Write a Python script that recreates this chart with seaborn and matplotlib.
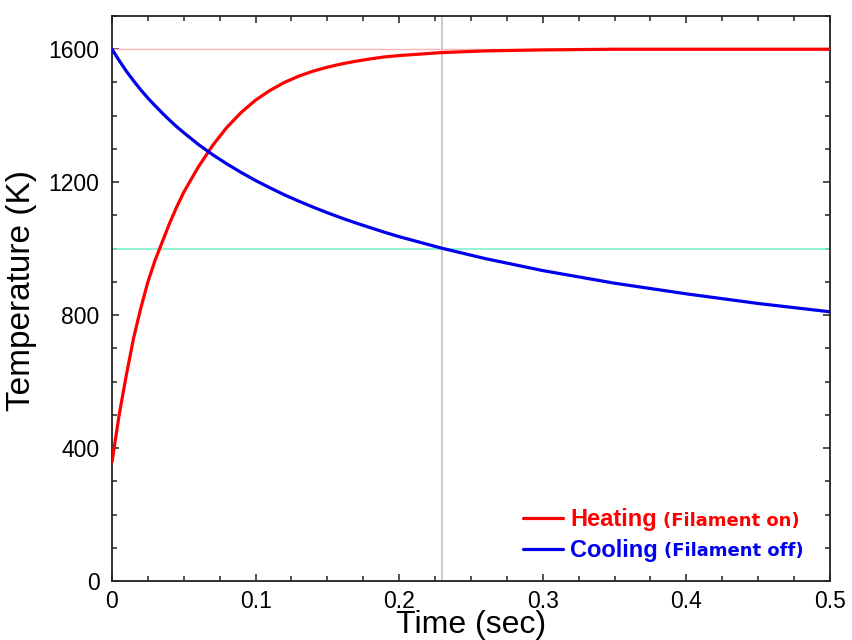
import matplotlib
matplotlib.use('Agg')
import matplotlib.pyplot as plt
from matplotlib.ticker import MultipleLocator
import pandas as pd
import seaborn as sns

# values
time_s = [0, 0.005, 0.01, 0.015, 0.02, 0.025, 0.03, 0.035, 0.04, 0.045, 0.05,
          0.06, 0.07, 0.08, 0.09, 0.10, 0.11, 0.12, 0.13, 0.14, 0.15, 0.16,
          0.17, 0.18, 0.19, 0.20, 0.23, 0.26, 0.30, 0.35, 0.40, 0.45, 0.50]
heating_K = [358, 500, 620, 730, 820, 900, 965, 1020, 1075, 1125, 1170,
             1245, 1310, 1365, 1410, 1447, 1476, 1500, 1519, 1534, 1546, 1556,
             1564, 1571, 1577, 1581, 1590, 1595, 1598, 1600, 1600, 1600, 1600]
cooling_K = [1600, 1566, 1534, 1505, 1478, 1453, 1430, 1408, 1387, 1367, 1349,
             1314, 1283, 1255, 1229, 1205, 1183, 1162, 1143, 1125, 1108, 1092,
             1077, 1063, 1049, 1036, 1001, 970, 934, 896, 864, 835, 810]

ref_hot = 1600
ref_cold = 1000
ref_time = 0.23

xticks = [0, 0.1, 0.2, 0.3, 0.4, 0.5]
xtick_labels = ['0', '0.1', '0.2', '0.3', '0.4', '0.5']
yticks = [0, 400, 800, 1200, 1600]

df = pd.DataFrame({'Time': time_s, 'Heating': heating_K, 'Cooling': cooling_K})

sns.set_theme(style='ticks')
plt.rcParams['font.family'] = ['Liberation Sans', 'DejaVu Sans']
plt.rcParams['text.color'] = 'black'
plt.rcParams['axes.labelcolor'] = 'black'
plt.rcParams['xtick.color'] = 'black'
plt.rcParams['ytick.color'] = 'black'

fig = plt.figure(figsize=(8.53, 6.4), dpi=100)
ax = fig.add_axes([0.1313, 0.0922, 0.8417, 0.8828])

# reference lines
ax.axhline(ref_hot, color='#ffb3b3', lw=1.0, zorder=1)
ax.axhline(ref_cold, color='#7ff0d0', lw=1.2, zorder=1)
ax.axvline(ref_time, color='#c4c4c4', lw=1.2, zorder=1)

sns.lineplot(data=df, x='Time', y='Heating', color='#ff0000', lw=2.3,
             ax=ax, label='Heating', zorder=3)
sns.lineplot(data=df, x='Time', y='Cooling', color='#0000ee', lw=2.3,
             ax=ax, label='Cooling', zorder=3)

ax.set_xlim(0, 0.5)
ax.set_ylim(0, 1700)
ax.set_xticks(xticks)
ax.set_xticklabels(xtick_labels)
ax.set_yticks(yticks)
ax.xaxis.set_minor_locator(MultipleLocator(0.025))
ax.yaxis.set_minor_locator(MultipleLocator(100))

ax.tick_params(which='both', direction='in', top=True, right=True,
               color='#222222', labelcolor='black', width=1.1)
ax.tick_params(which='major', length=5)
ax.tick_params(which='minor', length=3.5)
ax.tick_params(axis='x', which='major', labelsize=16.5, pad=6.5)
ax.tick_params(axis='y', which='major', labelsize=16.5, pad=9)
for s in ax.spines.values():
    s.set_color('#222222')
    s.set_linewidth(1.3)

ax.set_xlabel('Time (sec)', fontsize=23, color='black')
ax.set_ylabel('Temperature (K)', fontsize=24, color='black')
ax.xaxis.set_label_coords(0.5, -0.052)
ax.yaxis.set_label_coords(-0.105, 0.515)

leg = ax.legend(loc='upper left', bbox_to_anchor=(0.572, 0.129), frameon=False,
                borderpad=0, borderaxespad=0, handlelength=1.7,
                handletextpad=0.3, labelspacing=0.33,
                prop={'weight': 'bold', 'size': 17})
colors = ['#ff0000', '#0000ee']
extras = ['(Filament on)', '(Filament off)']
for txt, c in zip(leg.get_texts(), colors):
    txt.set_color(c)

# put the smaller parenthetical text right after each legend label
fig.canvas.draw()
W, H = fig.bbox.width, fig.bbox.height
for txt, c, extra in zip(leg.get_texts(), colors, extras):
    bb = txt.get_window_extent()
    fig.text((bb.x1 + 6) / W, (bb.y0 + 1.5) / H, extra, ha='left', va='bottom',
             fontsize=13, fontweight='bold', color=c, family='DejaVu Sans')

fig.savefig('out.png', dpi=100)
